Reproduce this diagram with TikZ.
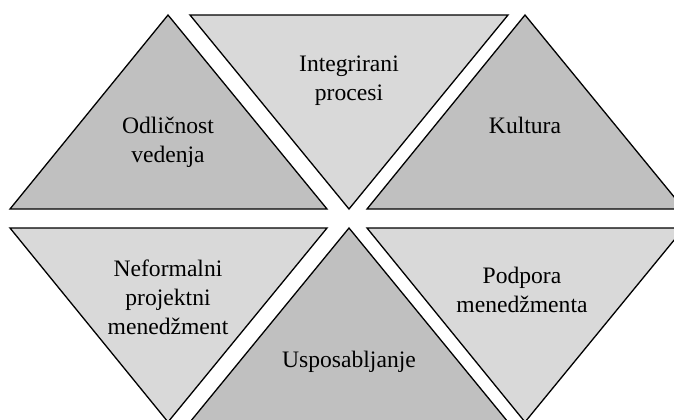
\documentclass[tikz,border=0pt]{standalone}
\usepackage{fontspec}
\setmainfont{Liberation Serif}
\definecolor{triDark}{RGB}{192,192,192}
\definecolor{triLight}{RGB}{217,217,217}
\tikzset{
  tri/.style={draw=black, line width=0.65pt, line join=miter},
  darktri/.style={tri, fill=triDark},
  lighttri/.style={tri, fill=triLight},
  lbl/.style={align=center, inner sep=0pt, font=\fontsize{11.8}{14.4}\selectfont}
}
\begin{document}
\begin{tikzpicture}[x=0.5pt, y=-0.5pt]
  \fill[white] (0,0) rectangle (674,419);
  \useasboundingbox (0,0) rectangle (674,419);
  \begin{scope}
    \clip (0,0) rectangle (674,419);
    % upper row
    \draw[darktri]  (10,209) -- (327,209) -- (168,15) -- cycle;
    \draw[lighttri] (190,15) -- (508,15) -- (349,209) -- cycle;
    \draw[darktri]  (367,209) -- (684,209) -- (525,15) -- cycle;
    % lower row
    \draw[lighttri] (10,228) -- (327,228) -- (168,422) -- cycle;
    \draw[darktri]  (190,422) -- (508,422) -- (349,228) -- cycle;
    \draw[lighttri] (367,228) -- (684,228) -- (525,422) -- cycle;
  \end{scope}
  % labels
  \node[lbl] (lead)    at (168,142) {Odličnost\\vedenja};
  \node[lbl] (proc)    at (349,81)  {Integrirani\\procesi};
  \node[lbl] (culture) at (525,125) {Kultura};
  \node[lbl] (informal) at (168,297) {Neformalni\\projektni\\menedžment};
  \node[lbl] (training) at (349,362) {Usposabljanje};
  \node[lbl] (support) at (522,290) {Podpora\\menedžmenta};
\end{tikzpicture}
\end{document}
